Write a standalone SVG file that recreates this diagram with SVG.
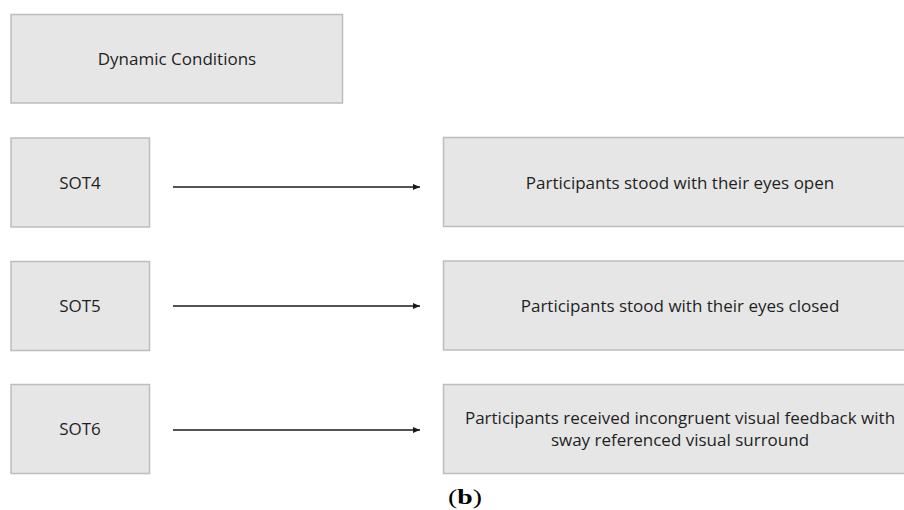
<svg xmlns="http://www.w3.org/2000/svg" width="904" height="510" viewBox="0 0 904 510">
<defs>
<marker id="ah" markerWidth="8" markerHeight="6" refX="7" refY="3" orient="auto" markerUnits="userSpaceOnUse">
<path d="M0,0 L7,3 L0,6 Z" fill="#1a1a1a"/>
</marker>
<style>
.box{fill:#e6e6e6;stroke:#bdbdbd;stroke-width:1.5}
.t{font-family:"Open Sans","Liberation Sans",sans-serif;font-size:17px;fill:#1f1f1f;text-anchor:middle}
.c{stroke:#1a1a1a;stroke-width:1.3;fill:none}
</style>
</defs>
<rect width="904" height="510" fill="#fff"/>
<g id="dynamic">
<rect class="box" x="11" y="14.5" width="331.5" height="88.5"/>
<text class="t" x="177" y="65">Dynamic Conditions</text>
</g>
<g id="sot4">
<rect class="box" x="11" y="138" width="138.5" height="89"/>
<text class="t" x="80" y="189">SOT4</text>
</g>
<g id="sot5">
<rect class="box" x="11" y="261.5" width="138.5" height="89"/>
<text class="t" x="80" y="312">SOT5</text>
</g>
<g id="sot6">
<rect class="box" x="11" y="384.5" width="138.5" height="89"/>
<text class="t" x="80" y="435">SOT6</text>
</g>
<g id="open">
<rect class="box" x="443.5" y="137.5" width="480" height="89"/>
<text class="t" x="680" y="189">Participants stood with their eyes open</text>
</g>
<g id="closed">
<rect class="box" x="443.5" y="261" width="480" height="89"/>
<text class="t" x="680" y="312">Participants stood with their eyes closed</text>
</g>
<g id="incongruent">
<rect class="box" x="443.5" y="384.5" width="480" height="89"/>
<text class="t" x="680" y="424">Participants received incongruent visual feedback with</text>
<text class="t" x="680" y="446">sway referenced visual surround</text>
</g>
<g id="connectors">
<line class="c" x1="173" y1="187" x2="420" y2="187" marker-end="url(#ah)"/>
<line class="c" x1="173" y1="306" x2="420" y2="306" marker-end="url(#ah)"/>
<line class="c" x1="173" y1="430" x2="420" y2="430" marker-end="url(#ah)"/>
</g>
<text x="448" y="504" font-family="Liberation Serif,serif" font-size="20" fill="#000" textLength="34" lengthAdjust="spacingAndGlyphs">(<tspan font-weight="bold">b</tspan>)</text>
</svg>
